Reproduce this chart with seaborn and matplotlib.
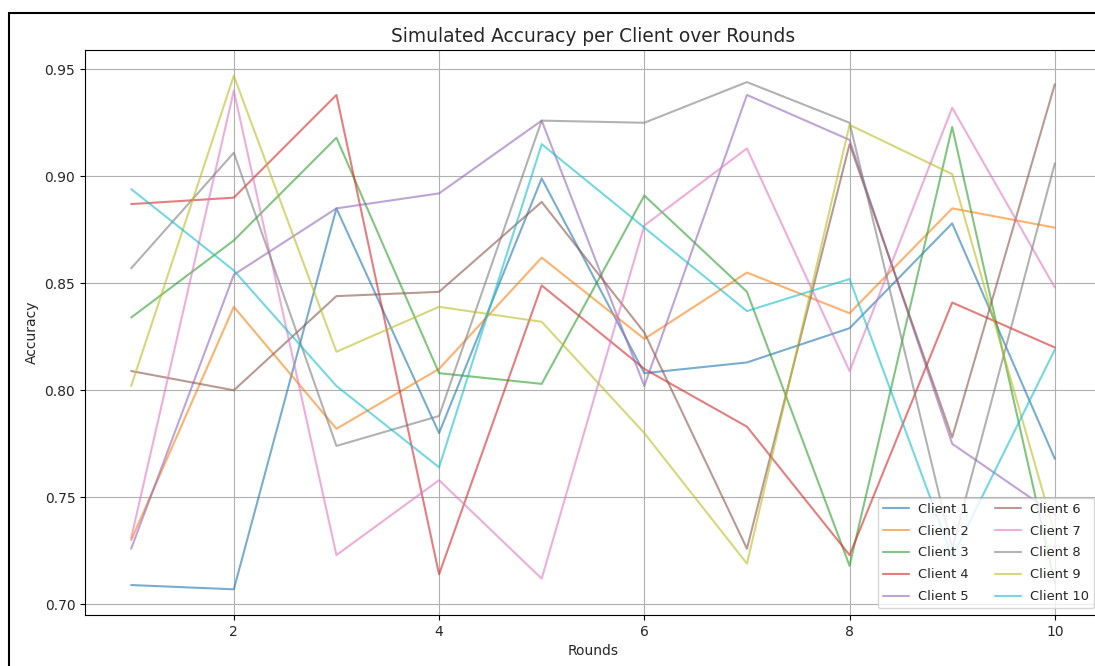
import numpy as np
import pandas as pd
import seaborn as sns
import matplotlib
matplotlib.use("Agg")
import matplotlib.pyplot as plt
from matplotlib.patches import Rectangle

rounds = [1, 2, 3, 4, 5, 6, 7, 8, 9, 10]
client_names = [f"Client {i}" for i in range(1, 11)]

client_1 = [0.709, 0.707, 0.885, 0.780, 0.899, 0.808, 0.813, 0.829, 0.878, 0.768]
client_2 = [0.730, 0.839, 0.782, 0.810, 0.862, 0.824, 0.855, 0.836, 0.885, 0.876]
client_3 = [0.834, 0.870, 0.918, 0.808, 0.803, 0.891, 0.846, 0.718, 0.923, 0.710]
client_4 = [0.887, 0.890, 0.938, 0.714, 0.849, 0.810, 0.783, 0.723, 0.841, 0.820]
client_5 = [0.726, 0.854, 0.885, 0.892, 0.926, 0.802, 0.938, 0.917, 0.775, 0.742]
client_6 = [0.809, 0.800, 0.844, 0.846, 0.888, 0.827, 0.726, 0.915, 0.778, 0.943]
client_7 = [0.731, 0.940, 0.723, 0.758, 0.712, 0.877, 0.913, 0.809, 0.932, 0.848]
client_8 = [0.857, 0.911, 0.774, 0.788, 0.926, 0.925, 0.944, 0.925, 0.726, 0.906]
client_9 = [0.802, 0.947, 0.818, 0.839, 0.832, 0.780, 0.719, 0.924, 0.901, 0.733]
client_10 = [0.894, 0.856, 0.802, 0.764, 0.915, 0.876, 0.837, 0.852, 0.722, 0.819]

series = [client_1, client_2, client_3, client_4, client_5,
          client_6, client_7, client_8, client_9, client_10]

df = pd.DataFrame({
    "Round": np.tile(rounds, len(series)),
    "Accuracy": np.concatenate(series),
    "Client": np.repeat(client_names, len(rounds)),
})

sns.set_style("white")
plt.rcParams["font.family"] = ["DejaVu Sans"]

fig = plt.figure(figsize=(10.95, 6.66), dpi=100)
ax = fig.add_axes([85 / 1095, 51 / 666, (1101 - 85) / 1095, (615 - 50) / 666])

palette = sns.color_palette("tab10", 10)
sns.lineplot(data=df, x="Round", y="Accuracy", hue="Client", hue_order=client_names,
             palette=palette, alpha=0.6, linewidth=1.5, ax=ax, legend=False)

handles = [plt.Line2D([], [], color=palette[i], alpha=0.6, linewidth=1.5) for i in range(10)]
ax.legend(handles, client_names, loc="lower right", ncol=2, fontsize=9.4,
          labelspacing=0.68, handletextpad=0.7)

ax.grid(True, color="#b0b0b0", linewidth=0.8)
for s in ax.spines.values():
    s.set_color("black")
    s.set_linewidth(0.8)
ax.spines["right"].set_visible(False)
ax.tick_params(axis="both", which="both", length=3.5, width=0.8, color="black",
               labelsize=10, bottom=True, left=True)
ax.set_xticks([2, 4, 6, 8, 10])
ax.set_title("Simulated Accuracy per Client over Rounds", fontsize=13.4)
ax.set_xlabel("Rounds", fontsize=10)
ax.set_ylabel("Accuracy", fontsize=10)

fig.patches.append(Rectangle((9 / 1095, -0.05), 1.1, 1.05 - 13 / 666,
                             transform=fig.transFigure, fill=False,
                             edgecolor="black", linewidth=1.5, zorder=10))

fig.savefig("out.png", dpi=100)
